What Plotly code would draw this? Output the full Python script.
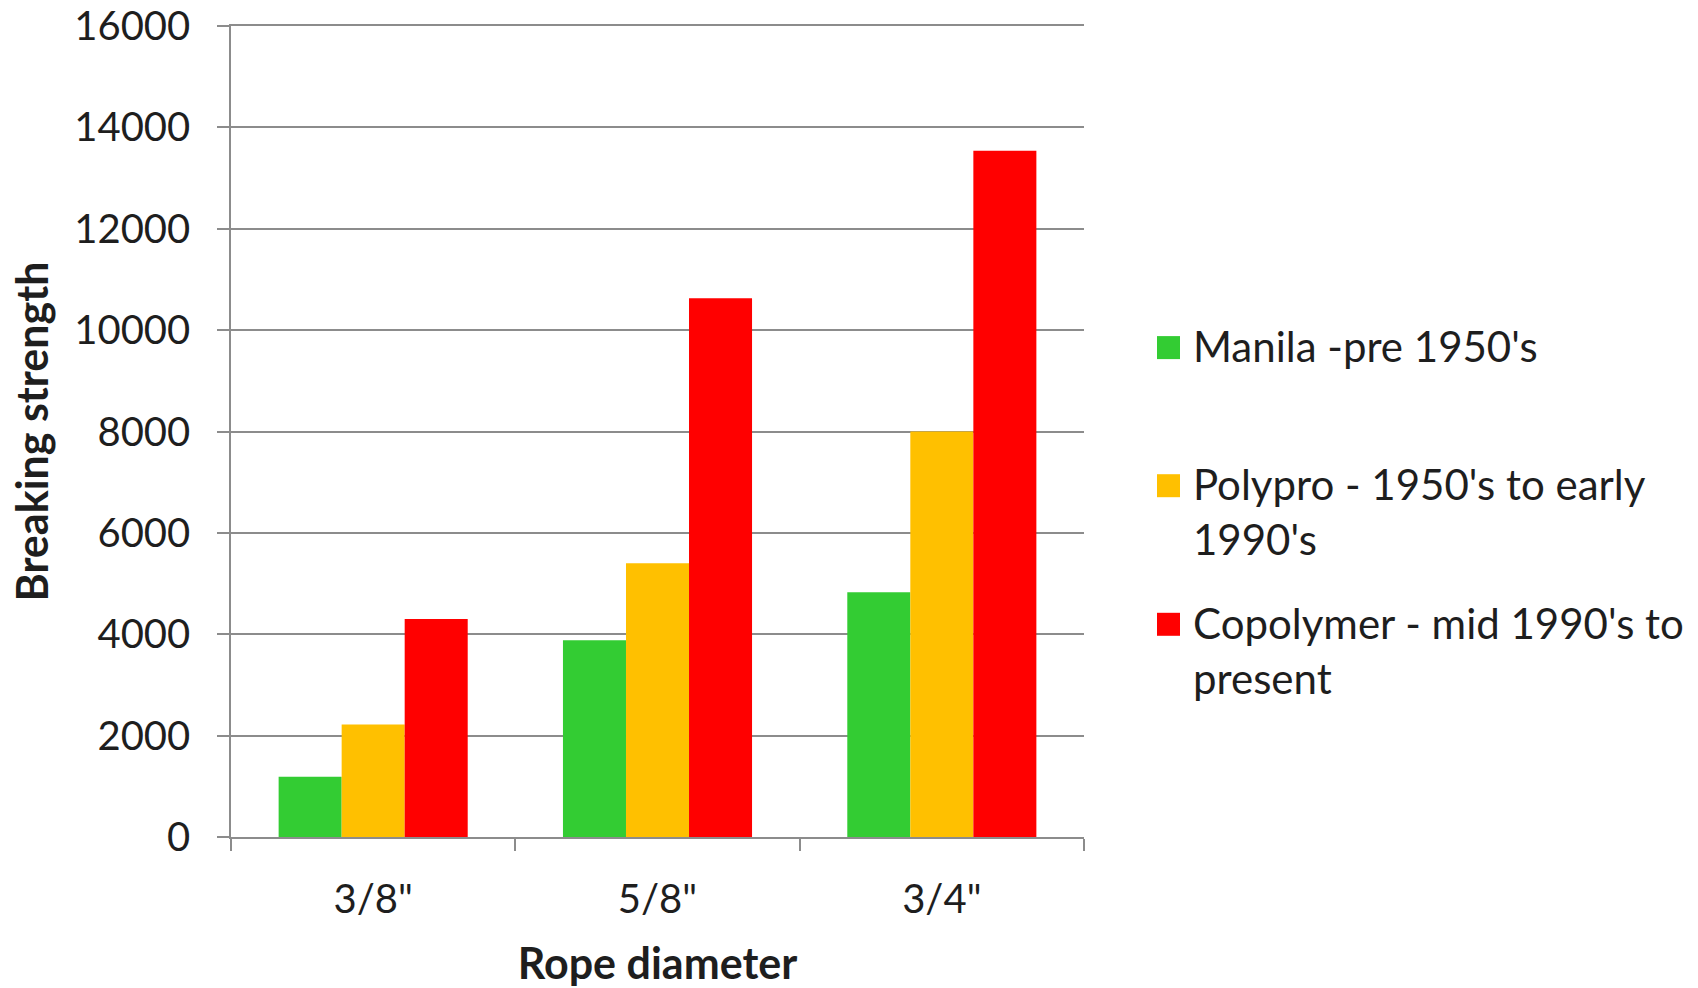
import plotly.graph_objects as go

# Rope breaking strength by diameter and material
diameters = ['3/8"', '5/8"', '3/4"']
series_names = ["Manila -pre 1950's", "Polypro - 1950's to early 1990's", "Copolymer - mid 1990's to present"]
legend_labels = ["Manila -pre 1950's", "Polypro - 1950's to early<br>1990's", "Copolymer - mid 1990's to<br>present"]
manila = [1190, 3880, 4830]
polypro = [2220, 5400, 8000]
copolymer = [4300, 10630, 13540]
y_ticks = [0, 2000, 4000, 6000, 8000, 10000, 12000, 14000, 16000]

colors = ["#33CC33", "#FFC000", "#FF0000"]
values = [manila, polypro, copolymer]

W, H = 1698, 988
ML, MR, MT, MB = 231, 614, 26, 151
PW, PH = W - ML - MR, H - MT - MB
FONT = "Lato, Arial, sans-serif"
TXT = "#1e1e1e"
GRID = "#8c8c8c"
TICK_FS = 40
LEG_FS = 42
TITLE_FS = 43

fig = go.Figure()
for name, vals, col in zip(series_names, values, colors):
    fig.add_trace(go.Bar(x=diameters, y=vals, name=name, marker=dict(color=col, line=dict(width=0)),
                         showlegend=False))


def px_x(px):
    return (px - ML) / PW


def px_y(py):
    return (H - MB - py) / PH


# Legend: coloured squares with wrapped labels to the right of the plot
sq_centers = [347.6, 485.7, 624.3]
sq_left, sq_size, text_left = 1157, 23, 1192
shapes = []
annotations = []
for label, col, cy in zip(legend_labels, colors, sq_centers):
    shapes.append(dict(type="rect", xref="paper", yref="paper",
                       x0=px_x(sq_left), x1=px_x(sq_left + sq_size),
                       y0=px_y(cy + sq_size / 2), y1=px_y(cy - sq_size / 2),
                       fillcolor=col, line=dict(width=0)))
    annotations.append(dict(text=label, xref="paper", yref="paper", x=px_x(text_left),
                            y=px_y(cy - 0.65 * LEG_FS), xanchor="left", yanchor="top",
                            align="left", showarrow=False, borderpad=0,
                            font=dict(family=FONT, size=LEG_FS, color=TXT)))

fig.update_layout(
    width=W, height=H,
    margin=dict(l=ML, r=MR, t=MT, b=MB, pad=0, autoexpand=False),
    paper_bgcolor="white", plot_bgcolor="white",
    barmode="group", bargap=0.335, bargroupgap=0,
    font=dict(family=FONT, size=TICK_FS, color=TXT),
    showlegend=False,
    shapes=shapes, annotations=annotations,
    xaxis=dict(
        type="category", automargin=False,
        tickson="boundaries", ticks="outside", ticklen=12, tickwidth=1.5, tickcolor=GRID,
        showline=True, linecolor=GRID, linewidth=1.5, mirror=True,
        showgrid=False, zeroline=False,
        ticklabelstandoff=26,
        tickfont=dict(family=FONT, size=TICK_FS, color=TXT),
        title=dict(text="<b>Rope diameter</b>", standoff=33,
                   font=dict(family=FONT, size=TITLE_FS, color=TXT)),
    ),
    yaxis=dict(
        range=[0, 16000], tickvals=y_ticks, ticktext=[str(v) for v in y_ticks], automargin=False,
        ticks="outside", ticklen=12, tickwidth=1.5, tickcolor=GRID,
        showline=True, linecolor=GRID, linewidth=1.5,
        showgrid=True, gridcolor=GRID, gridwidth=1.5, zeroline=False,
        ticklabelstandoff=19,
        tickfont=dict(family=FONT, size=TICK_FS, color=TXT),
        title=dict(text="<b>Breaking strength</b>", standoff=12,
                   font=dict(family=FONT, size=TITLE_FS, color=TXT)),
    ),
)

fig.write_html("out.html")
